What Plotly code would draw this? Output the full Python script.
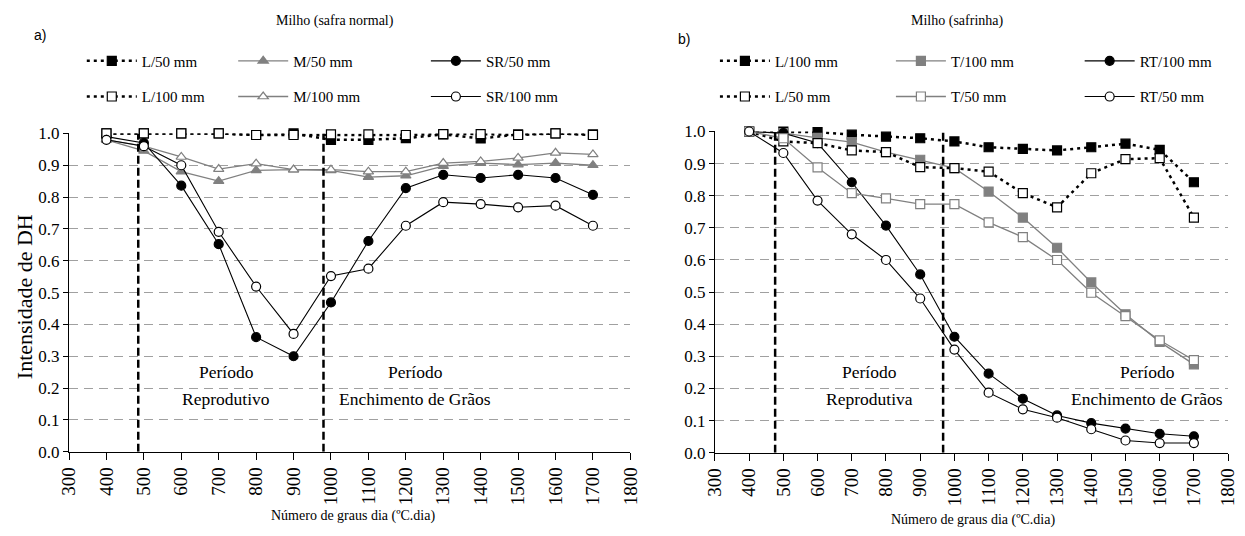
import plotly.graph_objects as go

# ---------------- data ----------------
gdd = [400, 500, 600, 700, 800, 900, 1000, 1100, 1200, 1300, 1400, 1500, 1600, 1700]

# a) Milho (safra normal)
a_L50 = [1.00, 1.00, 1.00, 1.00, 0.995, 1.00, 0.98, 0.98, 0.985, 0.997, 0.984, 0.997, 1.00, 0.997]
a_L100 = [1.00, 1.00, 1.00, 1.00, 0.995, 0.995, 0.997, 0.997, 0.995, 0.998, 0.998, 0.995, 1.00, 0.995]
a_M50 = [0.98, 0.945, 0.88, 0.85, 0.884, 0.886, 0.884, 0.863, 0.867, 0.897, 0.907, 0.902, 0.907, 0.90]
a_M100 = [0.98, 0.96, 0.926, 0.888, 0.905, 0.886, 0.886, 0.88, 0.88, 0.907, 0.912, 0.923, 0.939, 0.934]
a_SR50 = [0.99, 0.97, 0.836, 0.652, 0.36, 0.30, 0.469, 0.662, 0.828, 0.870, 0.860, 0.870, 0.860, 0.807]
a_SR100 = [0.98, 0.96, 0.90, 0.691, 0.519, 0.37, 0.552, 0.575, 0.71, 0.784, 0.778, 0.768, 0.773, 0.71]

# b) Milho (safrinha)
b_L100 = [1.00, 1.00, 0.998, 0.99, 0.984, 0.979, 0.969, 0.951, 0.946, 0.941, 0.951, 0.962, 0.943, 0.842]
b_L50 = [1.00, 0.969, 0.964, 0.941, 0.936, 0.889, 0.886, 0.875, 0.808, 0.764, 0.870, 0.914, 0.917, 0.732]
b_T100 = [1.00, 0.995, 0.98, 0.967, 0.936, 0.912, 0.886, 0.813, 0.732, 0.638, 0.530, 0.431, 0.345, 0.275]
b_T50 = [1.00, 0.979, 0.888, 0.808, 0.792, 0.774, 0.774, 0.717, 0.671, 0.600, 0.498, 0.425, 0.350, 0.288]
b_RT100 = [1.00, 0.995, 0.964, 0.842, 0.707, 0.555, 0.361, 0.246, 0.168, 0.116, 0.092, 0.075, 0.059, 0.051]
b_RT50 = [1.00, 0.933, 0.785, 0.68, 0.60, 0.48, 0.321, 0.187, 0.135, 0.109, 0.073, 0.038, 0.030, 0.030]

# period boundaries (ºC.dia)
a_bounds = [485, 980]
b_bounds = [476, 967]

x_ticks = list(range(300, 1900, 100))
y_ticks = [round(i * 0.1, 1) for i in range(11)]

SERIF = "Liberation Serif, Times New Roman, serif"
SANS = "Liberation Sans, Arial, sans-serif"
GRAY = "#808080"
DOT = "3px,4px"

W, H = 1245, 536


def px(v):
    return v / W


def py(v):
    return 1 - v / H


fig = go.Figure()

# (values, name, axes, legend x px, legend y px, line colour, dash, width, symbol, fill, edge)
series = [
    (a_L50, "L/50 mm", "x", "y", 80, 54, "black", DOT, 2.5, "square", "black", "black"),
    (a_M50, "M/50 mm", "x", "y", 234, 54, GRAY, "solid", 1.3, "triangle-up", GRAY, GRAY),
    (a_SR50, "SR/50 mm", "x", "y", 430, 54, "black", "solid", 1.1, "circle", "black", "black"),
    (a_L100, "L/100 mm", "x", "y", 80, 91, "black", DOT, 2.5, "square", "white", "black"),
    (a_M100, "M/100 mm", "x", "y", 234, 91, GRAY, "solid", 1.3, "triangle-up", "white", GRAY),
    (a_SR100, "SR/100 mm", "x", "y", 430, 91, "black", "solid", 1.1, "circle", "white", "black"),
    (b_L100, "L/100 mm", "x2", "y2", 724, 54, "black", DOT, 2.5, "square", "black", "black"),
    (b_T100, "T/100 mm", "x2", "y2", 903, 54, GRAY, "solid", 1.3, "square", GRAY, GRAY),
    (b_RT100, "RT/100 mm", "x2", "y2", 1095, 54, "black", "solid", 1.1, "circle", "black", "black"),
    (b_L50, "L/50 mm", "x2", "y2", 724, 91, "black", DOT, 2.5, "square", "white", "black"),
    (b_T50, "T/50 mm", "x2", "y2", 903, 91, GRAY, "solid", 1.3, "square", "white", GRAY),
    (b_RT50, "RT/50 mm", "x2", "y2", 1095, 91, "black", "solid", 1.1, "circle", "white", "black"),
]

legend_common = dict(orientation="h", xanchor="left", yanchor="middle", itemwidth=50,
                     bgcolor="rgba(0,0,0,0)", font=dict(family=SERIF, size=15, color="black"),
                     itemclick=False, itemdoubleclick=False, tracegroupgap=0)
legends = {}
for i, (vals, name, xa, ya, lx, ly, lc, dash, lw, sym, fc, ec) in enumerate(series):
    lid = "legend" if i == 0 else f"legend{i + 1}"
    fig.add_trace(go.Scatter(
        x=gdd, y=vals, name=name, mode="lines+markers", xaxis=xa, yaxis=ya, legend=lid,
        line=dict(color=lc, dash=dash, width=lw),
        marker=dict(symbol=sym, size=9, color=fc, line=dict(color=ec, width=1.2)),
        cliponaxis=False,
    ))
    legends[lid] = dict(legend_common, x=px(lx - 8), y=py(ly))

# period boundaries
for xa, ya, bounds in (("x", "y", a_bounds), ("x2", "y2", b_bounds)):
    for b in bounds:
        fig.add_shape(type="line", xref=xa, yref=ya, x0=b, x1=b, y0=0, y1=1.0,
                      line=dict(color="black", width=2.5, dash="8px,4px"))

axis_common = dict(showline=True, linecolor="black", linewidth=1, ticks="outside",
                   tickcolor="black", zeroline=False)
xcommon = dict(axis_common, range=[300, 1800], tickvals=x_ticks, tickangle=-90, ticklen=7,
               showgrid=False, tickfont=dict(family=SERIF, size=19, color="black"))
ycommon = dict(axis_common, range=[0, 1.0], tickvals=y_ticks, tickformat=".1f", ticklen=5,
               showgrid=True, gridcolor="#a0a0a0", griddash="9px,6px", gridwidth=1,
               tickfont=dict(family=SERIF, size=17, color="black"))

fig.update_layout(
    width=W, height=H, autosize=False,
    margin=dict(l=0, r=0, t=0, b=0),
    plot_bgcolor="white", paper_bgcolor="white",
    xaxis=dict(xcommon, domain=[px(59), px(630)], anchor="y"),
    yaxis=dict(ycommon, domain=[py(459), py(129)], anchor="x"),
    xaxis2=dict(xcommon, domain=[px(716), px(1238)], anchor="y2"),
    yaxis2=dict(ycommon, domain=[py(460), py(127)], anchor="x2"),
    showlegend=True,
    **legends,
)

ann = [
    dict(text="Milho (safra normal)", x=px(330), y=py(12), font=dict(family=SERIF, size=14)),
    dict(text="Milho (safrinha)", x=px(962), y=py(12), font=dict(family=SERIF, size=14)),
    dict(text="a)", x=px(29), y=py(27), font=dict(family=SANS, size=14)),
    dict(text="b)", x=px(685), y=py(31), font=dict(family=SANS, size=14)),
    dict(text="Número de graus dia (ºC.dia)", x=px(348), y=py(526), font=dict(family=SERIF, size=14)),
    dict(text="Número de graus dia (ºC.dia)", x=px(979), y=py(530), font=dict(family=SERIF, size=14)),
    dict(text="Intensidade de DH", x=px(14), y=py(298), font=dict(family=SERIF, size=22), textangle=-90),
]
for a in ann:
    a.update(xref="paper", yref="paper", showarrow=False, xanchor="center", yanchor="middle")
    a["font"]["color"] = "black"
    fig.add_annotation(**a)

period_font = dict(family=SERIF, size=17.5, color="black")
for xa, ya, xr, xf, lab in (("x", "y", 720, 1225, "Reprodutivo"), ("x2", "y2", 752, 1564, "Reprodutiva")):
    fig.add_annotation(text="Período", x=xr, y=0.251, xref=xa, yref=ya, showarrow=False, font=period_font)
    fig.add_annotation(text=lab, x=xr, y=0.166, xref=xa, yref=ya, showarrow=False, font=period_font)
    fig.add_annotation(text="Período", x=xf, y=0.251, xref=xa, yref=ya, showarrow=False, font=period_font)
    fig.add_annotation(text="Enchimento de Grãos", x=xf, y=0.166, xref=xa, yref=ya, showarrow=False,
                       font=period_font)

fig.write_html("out.html", config={"displayModeBar": False},
               post_script="document.body.style.margin='0px';document.body.style.overflow='hidden';")
